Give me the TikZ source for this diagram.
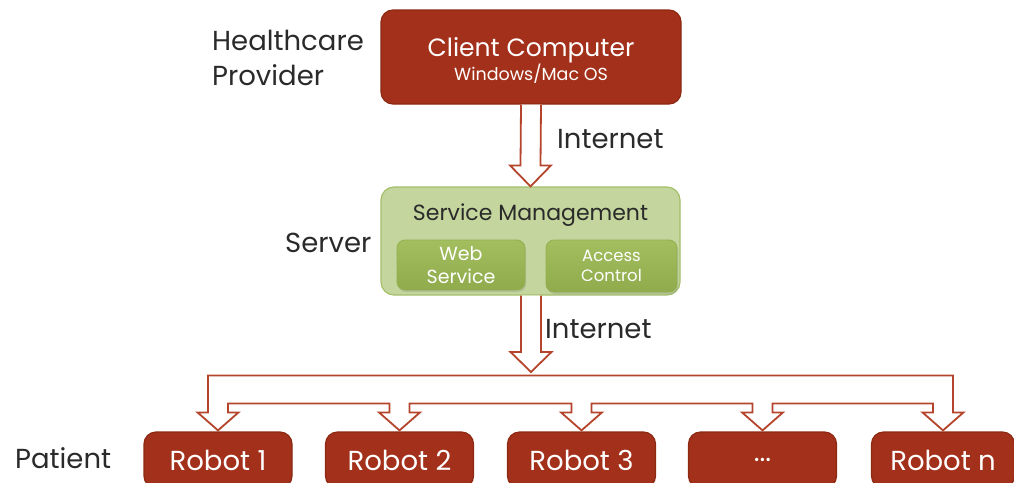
\documentclass[tikz,border=0pt]{standalone}
\usepackage{fontspec}
\setmainfont{Poppins}
\usetikzlibrary{calc,shadows}

\definecolor{brick}{HTML}{A3301A}
\definecolor{brickline}{HTML}{8C2912}
\definecolor{arrowred}{HTML}{B4442B}
\definecolor{sagefill}{HTML}{C4D69D}
\definecolor{sageline}{HTML}{A3BF6A}
\definecolor{olivetop}{HTML}{A2BE5E}
\definecolor{olivebot}{HTML}{8FAB4C}
\definecolor{oliveline}{HTML}{93B052}
\definecolor{inkgray}{HTML}{2A2A2A}

\tikzset{
  redbox/.style={draw=brickline, line width=1.2pt, fill=brick, rounded corners=12pt,
    text=white, inner sep=0pt},
  serverbox/.style={draw=sageline, line width=1.2pt, fill=sagefill, rounded corners=13pt,
    inner sep=0pt},
  subbox/.style={draw=oliveline, line width=0.8pt, top color=olivetop, bottom color=olivebot,
    rounded corners=8pt, text=white, inner sep=0pt, align=center,
    drop shadow={shadow xshift=1pt, shadow yshift=-2pt, opacity=0.25}},
  robot/.style={redbox, minimum width=148pt, minimum height=56pt,
    font=\fontsize{27.5}{30}\selectfont},
  sidelabel/.style={text=inkgray, inner sep=0pt, font=\fontsize{27.5}{35}\selectfont},
  hollow/.style={draw=arrowred, line width=1.8pt, fill=white, line join=miter},
}

\begin{document}
\begin{tikzpicture}[x=1pt, y=-1pt]
\useasboundingbox (0,0) rectangle (1014,482);

% main boxes
\node[redbox, minimum width=300pt, minimum height=94pt] (client) at (531,57) {};
\node[text=white, inner sep=0pt, anchor=base, font=\fontsize{25}{30}\selectfont]
  (cctitle) at (531,56) {Client Computer};
\node[text=white, inner sep=0pt, anchor=base, font=\fontsize{17.5}{20}\selectfont]
  (ccos) at (531,80) {Windows/Mac OS};

\node[serverbox, minimum width=299pt, minimum height=108pt] (server) at (530.5,241) {};
\node[text=inkgray, inner sep=0pt, font=\fontsize{22}{26}\selectfont, anchor=base]
  (smtitle) at (530.5,220) {Service Management};
\node[subbox, minimum width=128pt, minimum height=50pt, font=\fontsize{19}{23}\selectfont]
  (web) at (461,265) {Web\\Service};
\node[subbox, minimum width=131pt, minimum height=52pt, font=\fontsize{16.5}{20}\selectfont]
  (access) at (611.5,266) {Access\\Control};

% robots
\node[robot] (r1) at (218,460) {Robot 1};
\node[robot] (r2) at (399.5,460) {Robot 2};
\node[robot] (r3) at (581.5,460) {Robot 3};
\node[robot] (r4) at (762.5,460) {...};
\node[robot, minimum width=143pt] (r5) at (943,460) {Robot n};

% side labels
\node[sidelabel, anchor=base west, align=left] (hp) at (212,85) {Healthcare\\Provider};
\node[sidelabel, anchor=base west] (srv) at (285,252) {Server};
\node[sidelabel, anchor=base west] (pat) at (15,468) {Patient};
\node[sidelabel, anchor=base west] (net1) at (557,148) {Internet};
\node[sidelabel, anchor=base west] (net2) at (545,338) {Internet};

% client -> server
\draw[hollow]
  ($(client.south)+(-10,0)$) -- ($(server.north)+(-10,-21)$) -- ($(server.north)+(-20.5,-21)$)
  -- ($(server.north)+(0,0)$) -- ($(server.north)+(20.5,-21)$) -- ($(server.north)+(10,-21)$)
  -- ($(client.south)+(10,0)$);

% server -> distribution bar
\coordinate (hub) at (531,372);
\draw[hollow]
  ($(server.south)+(-9.5,0)$) -- ($(hub)+(-10,-20)$) -- ($(hub)+(-20.5,-20)$)
  -- (hub) -- ($(hub)+(20.5,-20)$) -- ($(hub)+(10,-20)$) -- ($(server.south)+(10.5,0)$);

% distribution bar with one arrow per robot
\draw[hollow]
  ($(r1.north)+(-10,-56)$) -- ($(r5.north)+(10,-56)$)
  -- ($(r5.north)+(10,-19)$) -- ($(r5.north)+(20.5,-19)$) -- ($(r5.north)+(0,-1)$)
  -- ($(r5.north)+(-20.5,-19)$) -- ($(r5.north)+(-10,-19)$) -- ($(r5.north)+(-10,-28)$)
  -- ($(r4.north)+(10,-28)$)
  -- ($(r4.north)+(10,-19)$) -- ($(r4.north)+(20.5,-19)$) -- ($(r4.north)+(0,-1)$)
  -- ($(r4.north)+(-20.5,-19)$) -- ($(r4.north)+(-10,-19)$) -- ($(r4.north)+(-10,-28)$)
  -- ($(r3.north)+(10,-28)$)
  -- ($(r3.north)+(10,-19)$) -- ($(r3.north)+(20.5,-19)$) -- ($(r3.north)+(0,-1)$)
  -- ($(r3.north)+(-20.5,-19)$) -- ($(r3.north)+(-10,-19)$) -- ($(r3.north)+(-10,-28)$)
  -- ($(r2.north)+(10,-28)$)
  -- ($(r2.north)+(10,-19)$) -- ($(r2.north)+(20.5,-19)$) -- ($(r2.north)+(0,-1)$)
  -- ($(r2.north)+(-20.5,-19)$) -- ($(r2.north)+(-10,-19)$) -- ($(r2.north)+(-10,-28)$)
  -- ($(r1.north)+(10,-28)$)
  -- ($(r1.north)+(10,-19)$) -- ($(r1.north)+(20.5,-19)$) -- ($(r1.north)+(0,-1)$)
  -- ($(r1.north)+(-20.5,-19)$) -- ($(r1.north)+(-10,-19)$) -- cycle;
\end{tikzpicture}
\end{document}
